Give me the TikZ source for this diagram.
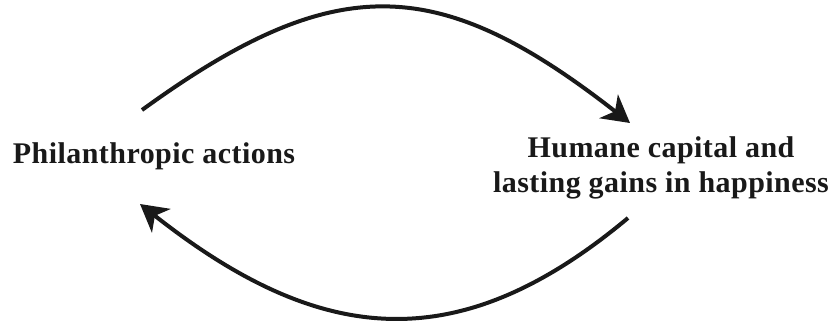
\documentclass[tikz,border=0pt]{standalone}
\usepackage{fontspec}
\setmainfont{Liberation Serif}
\usepackage{tikz}
\usetikzlibrary{arrows.meta}
\tikzset{
    lbl/.style={inner sep=0pt,font=\bfseries\fontsize{30}{35}\selectfont\addfontfeatures{LetterSpace=1.5},text=black!90},
    arc/.style={draw=black!90,line width=4pt,-{Stealth[length=27pt,width=30pt,inset=8pt]}},
}
\begin{document}
\begin{tikzpicture}[x=1pt,y=1pt]
\useasboundingbox (0,0) rectangle (830,325);
\node[lbl,anchor=base] (phil) at (154,162) {Philanthropic actions};
\node[lbl,align=center,anchor=base] (hum) at (661,133) {Humane capital and\\lasting gains in happiness};
\coordinate (ta) at (142,215);
\coordinate (tb) at (630,202);
\coordinate (ba) at (628,107);
\coordinate (bb) at (140,121);
\draw[arc] (ta) .. controls (335,355) and (438,352) .. (tb);
\draw[arc] (ba) .. controls (458,-35) and (320,-21) .. (bb);
\end{tikzpicture}
\end{document}
